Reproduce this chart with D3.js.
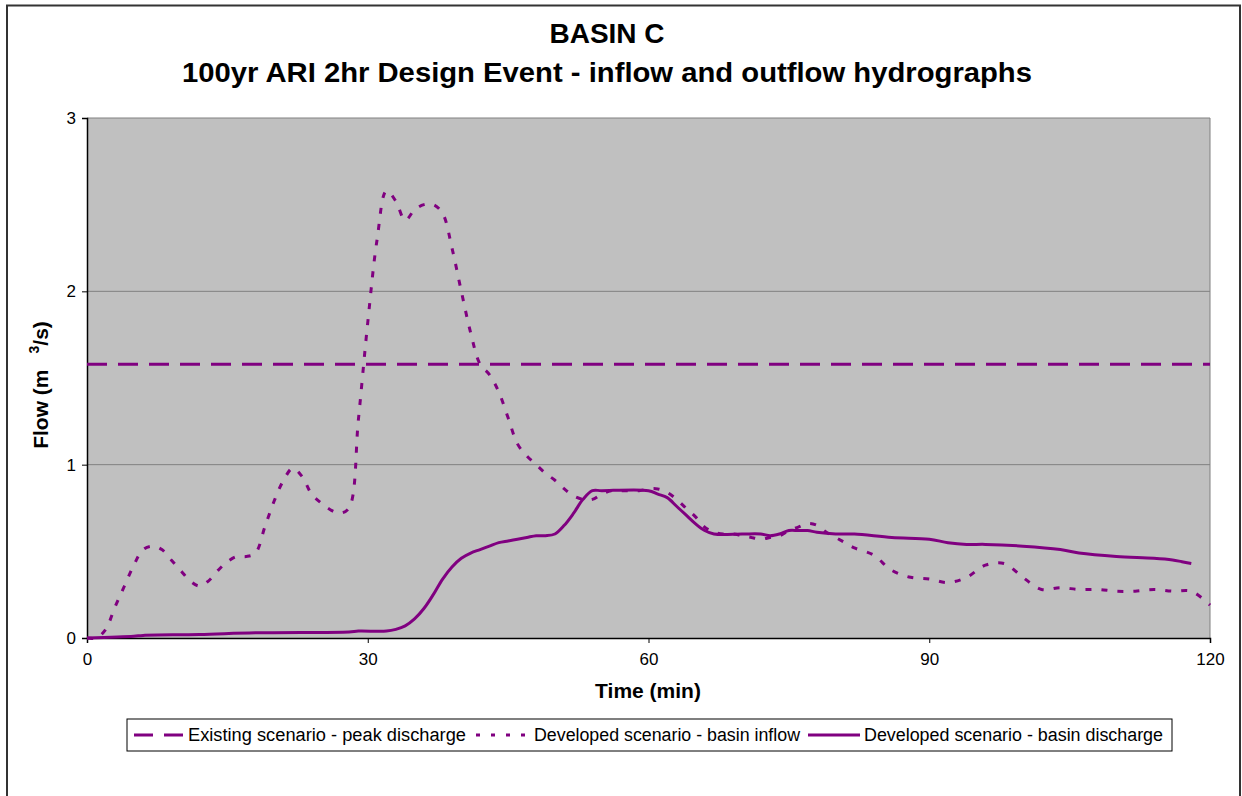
<!DOCTYPE html>
<html>
<head>
<meta charset="utf-8">
<script src="https://cdn.jsdelivr.net/npm/d3@7"></script>
<style>
  html, body { margin: 0; padding: 0; background: #fff; }
  svg { display: block; font-family: Arial, "Liberation Sans", sans-serif; }
</style>
</head>
<body>
<svg id="chart" width="1242" height="796"></svg>
<script>
// ---- Data ----
const titleLines = ["BASIN C", "100yr ARI 2hr Design Event - inflow and outflow hydrographs"];
const xTicks = [0, 30, 60, 90, 120];
const yTicks = [0, 1, 2, 3];
const seriesNames = [
  "Existing scenario - peak discharge",
  "Developed scenario - basin inflow",
  "Developed scenario - basin discharge"
];

const existingPeakTime = [0, 120];
const existingPeak = [1.58, 1.58];

const inflowTime = [0,1,2,3,4,5,6,7,8,9,10,11,12,13,14,15,16,17,18,19,20,21,22,23,24,25,26,27,28,29,30,31,32,33,34,35,36,37,38,39,40,41,42,43,44,45,46,47,48,49,50,51,52,53,54,55,56,57,58,59,60,61,62,63,64,65,66,67,68,69,70,71,72,73,74,75,76,77,78,79,80,81,82,84,86,88,90,92,94,96,98,100,102,104,106,108,110,112,114,116,118,120];
const inflow = [0,0,0.05,0.18,0.30,0.42,0.51,0.53,0.51,0.45,0.39,0.33,0.30,0.33,0.39,0.44,0.47,0.47,0.49,0.64,0.79,0.91,0.98,0.93,0.83,0.78,0.74,0.72,0.75,1.26,1.82,2.30,2.58,2.52,2.41,2.47,2.50,2.50,2.45,2.25,2.00,1.76,1.58,1.52,1.42,1.27,1.12,1.05,1.00,0.95,0.91,0.86,0.82,0.80,0.80,0.83,0.85,0.85,0.85,0.85,0.86,0.86,0.84,0.80,0.75,0.70,0.64,0.61,0.60,0.60,0.59,0.58,0.57,0.58,0.59,0.62,0.64,0.66,0.65,0.61,0.58,0.55,0.52,0.48,0.39,0.35,0.34,0.32,0.35,0.42,0.43,0.35,0.28,0.29,0.28,0.28,0.27,0.27,0.28,0.27,0.27,0.19];

const dischargeTime = [0,5,6,12,18,28,29,32,33,34,35,36,37,38,39,40,41,42,43,44,45,46,47,48,49,50,51,52,53,54,55,60,61,62,63,64,65,66,67,70,72,73,74,75,76,77,78,80,82,86,90,92,94,96,100,104,106,110,114,116,117,118];
const discharge = [0,0.01,0.015,0.02,0.03,0.035,0.04,0.04,0.05,0.07,0.11,0.17,0.25,0.34,0.41,0.46,0.49,0.51,0.53,0.55,0.56,0.57,0.58,0.59,0.59,0.60,0.65,0.72,0.80,0.85,0.85,0.85,0.83,0.81,0.76,0.71,0.66,0.62,0.60,0.60,0.60,0.59,0.60,0.62,0.62,0.62,0.61,0.60,0.60,0.58,0.57,0.55,0.54,0.54,0.53,0.51,0.49,0.47,0.46,0.45,0.44,0.43];

// ---- Layout ----
const svg = d3.select("#chart");
const plot = { left: 87, right: 1210, top: 118, bottom: 638 };
const purple = "#800080";
const font = "Arial, 'Liberation Sans', sans-serif";

const x = d3.scaleLinear().domain([0, 120]).range([plot.left, plot.right]);
const y = d3.scaleLinear().domain([0, 3]).range([plot.bottom, plot.top]);

// outer border
svg.append("rect").attr("x", 7).attr("y", 5.5).attr("width", 1233).attr("height", 800)
  .attr("fill", "#fff").attr("stroke", "#333").attr("stroke-width", 2);

// titles
svg.append("text").attr("x", 607).attr("y", 43).attr("text-anchor", "middle")
  .attr("font-size", 28).attr("font-weight", "bold").attr("fill", "#000").text(titleLines[0]);
svg.append("text").attr("x", 607).attr("y", 82).attr("text-anchor", "middle")
  .attr("font-size", 28).attr("font-weight", "bold").attr("fill", "#000")
  .attr("textLength", 850).attr("lengthAdjust", "spacingAndGlyphs").text(titleLines[1]);

// plot background
svg.append("rect").attr("x", plot.left).attr("y", plot.top)
  .attr("width", plot.right - plot.left).attr("height", plot.bottom - plot.top)
  .attr("fill", "#C0C0C0");

// gridlines
svg.append("g").selectAll("line").data(yTicks.filter(d => d > 0)).join("line")
  .attr("x1", plot.left).attr("x2", plot.right)
  .attr("y1", d => y(d)).attr("y2", d => y(d))
  .attr("stroke", "#808080").attr("stroke-width", 1);
svg.append("line").attr("x1", plot.right).attr("x2", plot.right).attr("y1", plot.top).attr("y2", plot.bottom)
  .attr("stroke", "#808080").attr("stroke-width", 1);

// axes
const yAxis = d3.axisLeft(y).tickValues(yTicks).tickSize(5).tickPadding(6).tickFormat(d3.format("d"));
const gy = svg.append("g").attr("transform", `translate(${plot.left},0)`).call(yAxis);
const xAxis = d3.axisBottom(x).tickValues(xTicks).tickSize(5).tickPadding(10).tickFormat(d3.format("d"));
const gx = svg.append("g").attr("transform", `translate(0,${plot.bottom})`).call(xAxis);
[gx, gy].forEach(g => {
  g.select(".domain").attr("stroke", "#000").attr("stroke-width", 1.5);
  g.selectAll(".tick line").attr("stroke", "#000");
  g.selectAll("text").attr("font-size", 17).attr("fill", "#000").attr("font-family", font);
});

// axis titles
svg.append("text").attr("x", 648).attr("y", 698).attr("text-anchor", "middle")
  .attr("font-size", 21).attr("font-weight", "bold").text("Time (min)");
const yt = svg.append("text").attr("transform", "translate(48,385) rotate(-90)")
  .attr("text-anchor", "middle").attr("font-size", 21).attr("font-weight", "bold");
yt.append("tspan").text("Flow (m");
yt.append("tspan").attr("font-size", 14).attr("dx", 16).attr("dy", -9).text("3");
yt.append("tspan").attr("dy", 9).text("/s)");

// lines
svg.append("clipPath").attr("id", "clip").append("rect")
  .attr("x", plot.left).attr("y", plot.top - 2).attr("width", plot.right - plot.left + 2).attr("height", plot.bottom - plot.top + 4);

const lineGen = d3.line().x(d => x(d[0])).y(d => y(d[1])).curve(d3.curveCatmullRom.alpha(0.5));
const lg = svg.append("g").attr("clip-path", "url(#clip)");

lg.append("path").datum(d3.zip(existingPeakTime, existingPeak))
  .attr("d", d3.line().x(d => x(d[0])).y(d => y(d[1])))
  .attr("fill", "none").attr("stroke", purple).attr("stroke-width", 3)
  .attr("stroke-dasharray", "20,11");
lg.append("path").datum(d3.zip(inflowTime, inflow))
  .attr("d", lineGen)
  .attr("fill", "none").attr("stroke", purple).attr("stroke-width", 3)
  .attr("stroke-dasharray", "6,10");
lg.append("path").datum(d3.zip(dischargeTime, discharge))
  .attr("d", lineGen)
  .attr("fill", "none").attr("stroke", purple).attr("stroke-width", 3);

// legend
const leg = svg.append("g");
leg.append("rect").attr("x", 127).attr("y", 719).attr("width", 1045).attr("height", 32)
  .attr("fill", "#fff").attr("stroke", "#000").attr("stroke-width", 1);
const symX = [134, 476, 808];
const symW = [50, 54, 52];
const legendDash = ["19,11", "4,11", null];
seriesNames.forEach((name, i) => {
  leg.append("line").attr("x1", symX[i]).attr("x2", symX[i] + symW[i])
    .attr("y1", 735).attr("y2", 735)
    .attr("stroke", purple).attr("stroke-width", 3)
    .attr("stroke-dasharray", legendDash[i]);
  leg.append("text").attr("x", symX[i] + symW[i] + 4).attr("y", 741)
    .attr("font-size", 18).attr("fill", "#000")
    .attr("textLength", [278, 266, 299][i]).attr("lengthAdjust", "spacingAndGlyphs").text(name);
});
</script>
</body>
</html>
